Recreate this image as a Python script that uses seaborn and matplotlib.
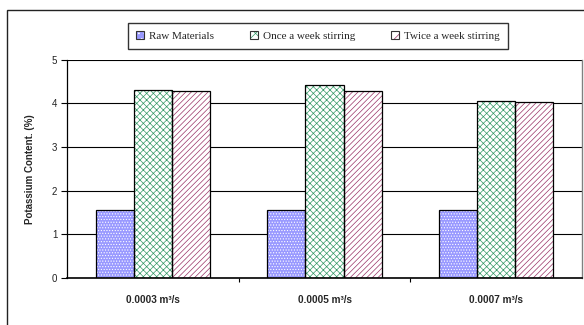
import matplotlib
matplotlib.use("Agg")
import matplotlib.pyplot as plt
from matplotlib.patches import Rectangle
from matplotlib.legend_handler import HandlerBase
import seaborn as sns
import pandas as pd

# Potassium content per aeration rate and stirring regime
categories = ["0.0003 m³/s", "0.0005 m³/s", "0.0007 m³/s"]
series = ["Raw Materials", "Once a week stirring", "Twice a week stirring"]
raw_materials = [1.55, 1.55, 1.55]
once_a_week = [4.30, 4.42, 4.05]
twice_a_week = [4.27, 4.27, 4.02]
y_ticks = [0, 1, 2, 3, 4, 5]

df = pd.DataFrame({
    "rate": categories * 3,
    "series": [series[0]] * 3 + [series[1]] * 3 + [series[2]] * 3,
    "value": raw_materials + once_a_week + twice_a_week,
})

# fill colour, hatch colour, hatch pattern for each series
styles = {
    series[0]: ("#9999ff", "#ffffff", "......"),
    series[1]: ("#ffffff", "#339966", "xxxxx"),
    series[2]: ("#ffffff", "#993366", "//////"),
}

sns.set_theme(style="white")
plt.rcParams["font.family"] = ["Liberation Sans", "DejaVu Sans"]
plt.rcParams["hatch.linewidth"] = 0.5

W, H = 584, 325
fig = plt.figure(figsize=(W / 100, H / 100), dpi=100)
fig.patch.set_facecolor("white")
ax = fig.add_axes([67 / W, 1 - 278 / H, (582 - 67) / W, (278 - 59.5) / H])

sns.barplot(data=df, x="rate", y="value", hue="series", order=categories,
            hue_order=series, width=0.667, legend=False, ax=ax,
            palette=[styles[s][0] for s in series], saturation=1)

for cont, name in zip(ax.containers, series):
    face, hcol, hatch = styles[name]
    for bar in cont:
        bar.set_facecolor(face)
        bar.set_edgecolor(hcol)
        bar.set_hatch(hatch)
        bar.set_linewidth(0)
        ax.add_patch(Rectangle(bar.get_xy(), bar.get_width(), bar.get_height(),
                               fill=False, edgecolor="black", linewidth=0.9,
                               zorder=bar.get_zorder() + 0.1))

ax.set_ylim(0, 5)
ax.set_xlim(-0.5, 2.5)
ax.set_yticks(y_ticks)
ax.set_yticklabels([str(t) for t in y_ticks], fontsize=7, color="#222222")
ax.set_axisbelow(True)
ax.yaxis.grid(True, color="black", linewidth=0.8)
ax.xaxis.grid(False)
ax.tick_params(axis="y", left=True, length=4, width=0.8, color="black", pad=3)
ax.set_xticks(range(len(categories)))
ax.set_xticklabels(categories, fontsize=7.2, fontweight="bold")
ax.tick_params(axis="x", which="major", length=0, pad=12)
ax.set_xticks([0.5, 1.5], minor=True)
ax.tick_params(axis="x", which="minor", bottom=True, length=3, width=0.8,
               color="black")
ax.set_xlabel("")
ax.set_ylabel("Potassium Content. (%)", fontsize=7, fontweight="bold",
              labelpad=12)

ax.spines["top"].set_visible(False)
ax.spines["left"].set_color("black")
ax.spines["left"].set_linewidth(0.9)
ax.spines["bottom"].set_color("black")
ax.spines["bottom"].set_linewidth(1.2)
ax.spines["right"].set_color("#808080")
ax.spines["right"].set_linewidth(1.0)

# chart frame
fig.patches.append(Rectangle((7 / W, -0.1), 1.2, 1.1 - 10 / H, fill=False,
                             edgecolor="#222222", linewidth=1.0,
                             transform=fig.transFigure, figure=fig))


class HatchedKey(HandlerBase):
    """Small hatched square with a dark outline."""

    def create_artists(self, legend, orig_handle, xdescent, ydescent,
                       width, height, fontsize, trans):
        face, hcol, hatch = orig_handle
        s = min(width, height)
        x0 = -xdescent + (width - s) / 2
        y0 = -ydescent + (height - s) / 2
        fill = Rectangle((x0, y0), s, s, facecolor=face, edgecolor=hcol,
                         hatch=hatch[:3], linewidth=0, transform=trans)
        edge = Rectangle((x0, y0), s, s, fill=False, edgecolor="#333333",
                         linewidth=0.8, transform=trans)
        return [fill, edge]


keys = [styles[s] for s in series]
leg = fig.legend(keys, series, loc="center",
                 bbox_to_anchor=(318 / W, 1 - 36 / H), ncol=3,
                 handler_map={tuple: HatchedKey()},
                 prop={"family": ["Liberation Serif"], "size": 8},
                 frameon=True, fancybox=False, edgecolor="black",
                 handlelength=0.7, handleheight=0.7, handletextpad=0.5,
                 columnspacing=3.2, borderpad=0.7)
leg.get_frame().set_linewidth(1.0)

fig.savefig("out.png", dpi=100)
